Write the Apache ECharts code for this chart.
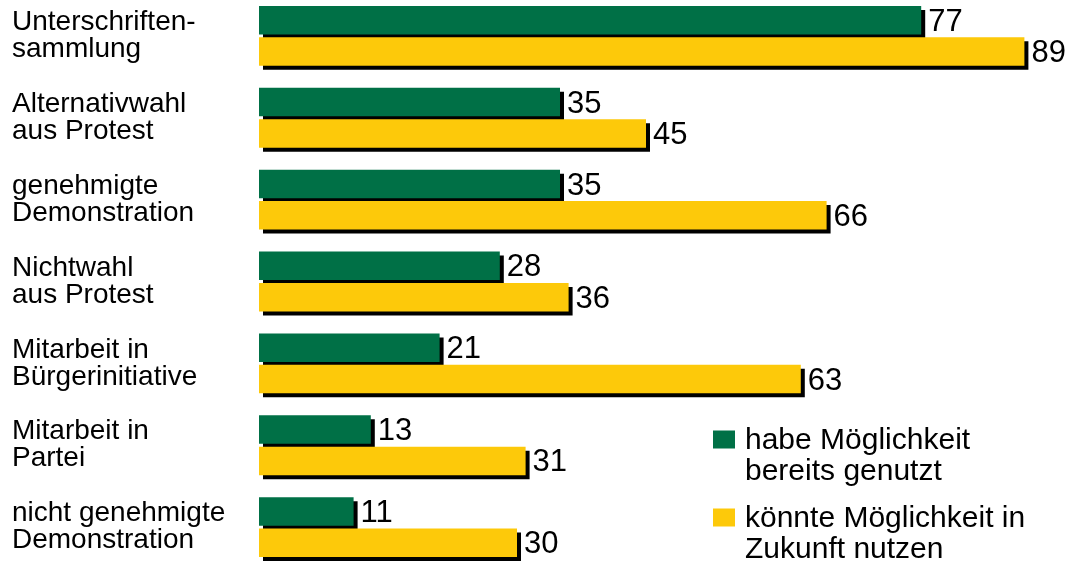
<!DOCTYPE html>
<html>
<head>
<meta charset="utf-8">
<script src="https://cdn.jsdelivr.net/npm/echarts@6/dist/echarts.min.js"></script>
<style>
  html, body { margin: 0; padding: 0; background: #fff; }
  #chart { width: 1075px; height: 565px; }
</style>
</head>
<body>
<div id="chart"></div>
<script>
// Kategorien (von oben nach unten)
var categories = [
  "Unterschriften-\nsammlung",
  "Alternativwahl\naus Protest",
  "genehmigte\nDemonstration",
  "Nichtwahl\naus Protest",
  "Mitarbeit in\nBürgerinitiative",
  "Mitarbeit in\nPartei",
  "nicht genehmigte\nDemonstration"
];
var seriesNames = ["habe Möglichkeit\nbereits genutzt", "könnte Möglichkeit in\nZukunft nutzen"];
var genutzt = [77, 35, 35, 28, 21, 13, 11];
var zukunft = [89, 45, 66, 36, 63, 31, 30];

var font = "'Liberation Sans', Arial, sans-serif";
var shadow = {
  shadowColor: "#000",
  shadowBlur: 0,
  shadowOffsetX: 4,
  shadowOffsetY: 4
};
var valueLabel = { show: true, position: "right", distance: 7, offset: [0, 2], fontSize: 31, color: "#000", fontFamily: font };

var chart = echarts.init(document.getElementById("chart"));
chart.setOption({
  animation: false,
  textStyle: { fontFamily: font },
  grid: { left: 259, top: -5, height: 573, width: 774, outerBoundsMode: "none" },
  legend: {
    orient: "vertical",
    left: 713,
    top: 425,
    height: 150,
    padding: 0,
    itemWidth: 27,
    itemHeight: 62,
    itemGap: 16,
    // Quadrat oben, damit es zur ersten Textzeile passt
    icon: "path://M0,5.5h22v18h-22z M27,0 M0,62",
    textStyle: { fontSize: 30, lineHeight: 31, color: "#000", fontFamily: font },
    data: seriesNames
  },
  xAxis: { type: "value", min: 0, max: 90, show: false },
  yAxis: {
    type: "category",
    inverse: true,
    data: categories,
    axisLine: { show: false },
    axisTick: { show: false },
    splitLine: { show: false },
    axisLabel: {
      align: "left",
      margin: 247,
      fontSize: 28,
      lineHeight: 27,
      padding: [6, 0, 0, 0],
      color: "#000",
      fontFamily: font
    }
  },
  series: [
    {
      type: "bar",
      name: seriesNames[0],
      data: genutzt,
      barWidth: 28.5,
      barGap: "10%",
      itemStyle: Object.assign({ color: "#007046" }, shadow),
      label: valueLabel
    },
    {
      type: "bar",
      name: seriesNames[1],
      data: zukunft,
      barWidth: 28.5,
      barGap: "10%",
      itemStyle: Object.assign({ color: "#fdc90a" }, shadow),
      label: valueLabel
    }
  ]
});
</script>
</body>
</html>
